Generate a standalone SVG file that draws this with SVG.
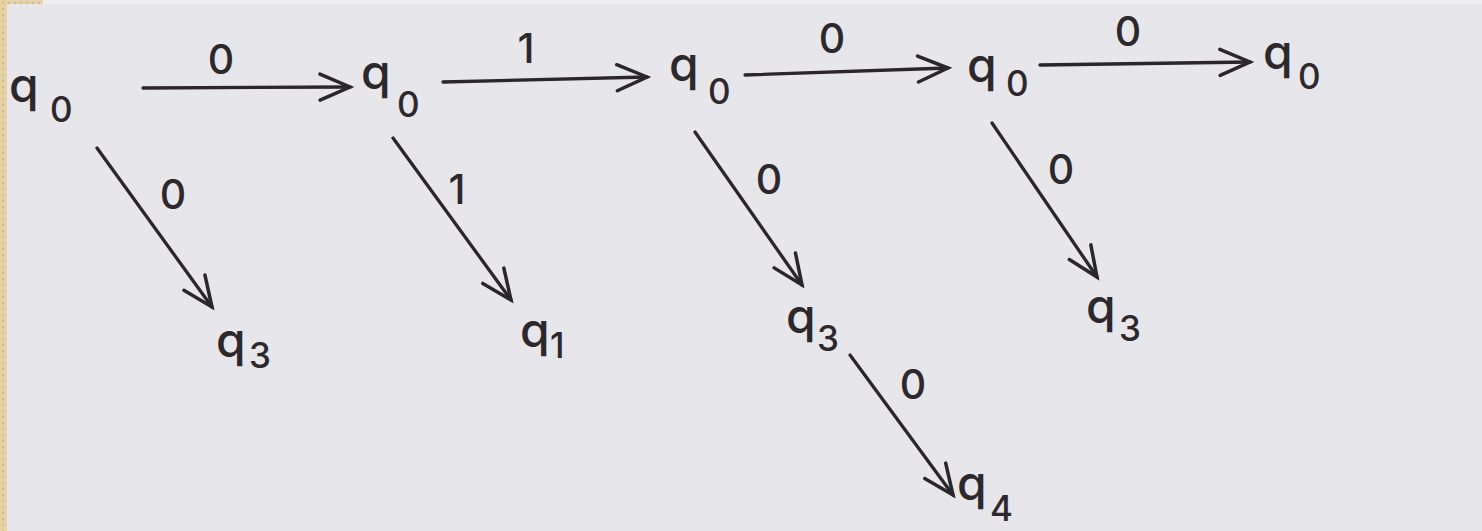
<svg xmlns="http://www.w3.org/2000/svg" width="1482" height="531" viewBox="0 0 1482 531">
  <style>
    .q { font-family: Inter, "Liberation Sans", Arial, sans-serif; font-size: 48px; font-weight: 500; fill: #2d282b; }
    .sub { font-size: 35px; }
    .lbl { font-family: Inter, "Liberation Sans", Arial, sans-serif; font-size: 41px; font-weight: 500; fill: #2d282b; text-anchor: middle; }
    .edge { fill: none; stroke: #2b2629; stroke-width: 3.3; stroke-linecap: round; marker-end: url(#ah); }
  </style>
  <defs>
    <marker id="ah" markerUnits="userSpaceOnUse" markerWidth="44" markerHeight="44" viewBox="-36 -22 44 44" refX="0" refY="0" orient="auto" overflow="visible">
      <path d="M-30,-13 L0,0 L-30,13" fill="none" stroke="#2b2629" stroke-width="3.5" stroke-linecap="round" stroke-linejoin="miter"/>
    </marker>
    <pattern id="dots" width="6" height="6" patternUnits="userSpaceOnUse">
      <rect width="6" height="6" fill="#e6d3a4"/>
      <circle cx="3" cy="3" r="1.2" fill="#d6bd84"/>
    </pattern>
  </defs>

  <!-- page background -->
  <rect x="0" y="0" width="1482" height="531" fill="#e7e6ea"/>
  <rect x="0" y="0" width="1482" height="4" fill="#efeef1"/>
  <rect x="0" y="0" width="7" height="531" fill="url(#dots)"/>
  <rect x="0" y="0" width="43" height="4" fill="url(#dots)"/>

  <g id="connectors">
    <line class="edge" x1="143" y1="88" x2="350" y2="87"/>
    <line class="edge" x1="443" y1="82" x2="647" y2="77"/>
    <line class="edge" x1="745" y1="75" x2="948" y2="68"/>
    <line class="edge" x1="1040" y1="65" x2="1250" y2="62"/>
    <line class="edge" x1="97" y1="148" x2="212" y2="307"/>
    <line class="edge" x1="393" y1="138" x2="511" y2="300"/>
    <line class="edge" x1="695" y1="132" x2="802" y2="285"/>
    <line class="edge" x1="992" y1="123" x2="1097" y2="277"/>
    <line class="edge" x1="850" y1="355" x2="953" y2="495"/>
    <text class="lbl" x="221" y="74">0</text>
    <text class="lbl" x="526" y="63">1</text>
    <text class="lbl" x="832" y="53">0</text>
    <text class="lbl" x="1128" y="46">0</text>
    <text class="lbl" x="173" y="209">0</text>
    <text class="lbl" x="457" y="204">1</text>
    <text class="lbl" x="769" y="194">0</text>
    <text class="lbl" x="1061" y="184">0</text>
    <text class="lbl" x="913" y="399">0</text>
  </g>

  <g id="n1"><text class="q" x="9" y="102">q<tspan class="sub" x="50" y="122">0</tspan></text></g>
  <g id="n2"><text class="q" x="361" y="89">q<tspan class="sub" x="397" y="117">0</tspan></text></g>
  <g id="n3"><text class="q" x="669" y="81">q<tspan class="sub" x="708" y="104">0</tspan></text></g>
  <g id="n4"><text class="q" x="967" y="82">q<tspan class="sub" x="1006" y="96">0</tspan></text></g>
  <g id="n5"><text class="q" x="1263" y="69">q<tspan class="sub" x="1298" y="89">0</tspan></text></g>
  <g id="n6"><text class="q" x="216" y="357">q<tspan class="sub" x="249" y="368">3</tspan></text></g>
  <g id="n7"><text class="q" x="520" y="347">q<tspan class="sub" x="550" y="358">1</tspan></text></g>
  <g id="n8"><text class="q" x="786" y="333">q<tspan class="sub" x="817" y="351">3</tspan></text></g>
  <g id="n9"><text class="q" x="1086" y="323">q<tspan class="sub" x="1119" y="341">3</tspan></text></g>
  <g id="n10"><text class="q" x="957" y="500">q<tspan class="sub" x="990" y="521">4</tspan></text></g>
</svg>
